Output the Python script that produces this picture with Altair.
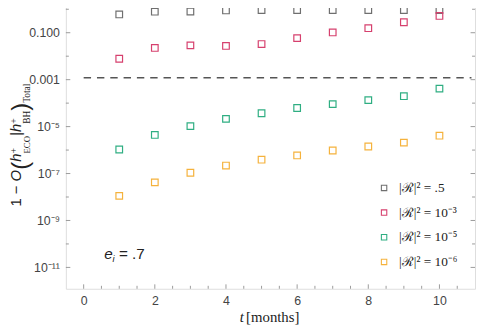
import altair as alt
import pandas as pd

# ---------------- data ----------------
months = [1, 2, 3, 4, 5, 6, 7, 8, 9, 10]
series_names = ["|ℛ|² = .5", "|ℛ|² = 10⁻³", "|ℛ|² = 10⁻⁵", "|ℛ|² = 10⁻⁶"]
series_colors = ["#6f6f6f", "#d6406e", "#2fae82", "#f5b23c"]
r_half = [0.6, 0.79, 0.8, 0.89, 0.92, 0.92, 0.92, 0.92, 0.92, 0.92]
r_1e3 = [0.0078, 0.0225, 0.029, 0.0274, 0.033, 0.059, 0.103, 0.156, 0.28, 0.52]
r_1e5 = [1.06e-6, 4.4e-6, 1.05e-5, 2.13e-5, 3.7e-5, 6.2e-5, 9.1e-5, 1.34e-4, 1.97e-4, 4.15e-4]
r_1e6 = [1.12e-8, 4.2e-8, 1.08e-7, 2.19e-7, 3.9e-7, 5.9e-7, 9.6e-7, 1.42e-6, 2.08e-6, 4.1e-6]

threshold_x = [0, 10.9]
threshold_y = 0.0012

x_label_ticks = [0, 2, 4, 6, 8, 10]
x_minor_ticks = [0.5, 1, 1.5, 2.5, 3, 3.5, 4.5, 5, 5.5, 6.5, 7, 7.5, 8.5, 9, 9.5, 10.5]
y_label_ticks = [1e-1, 1e-3, 1e-5, 1e-7, 1e-9, 1e-11]
y_tick_labels = ["0.100", "0.001", "10⁻⁵", "10⁻⁷", "10⁻⁹", "10⁻¹¹"]
y_minor_ticks = [1e0, 1e-2, 1e-4, 1e-6, 1e-8, 1e-10]

# ---------------- layout ----------------
W, H = 415, 290
PLOT_LEFT, PLOT_TOP = 66.7, 0.5  # page position of plot origin

rows = []
for name, vals in zip(series_names, [r_half, r_1e3, r_1e5, r_1e6]):
    for m, v in zip(months, vals):
        rows.append({"t": m, "v": v, "series": name})
df = pd.DataFrame(rows)

xs = alt.Scale(domain=[-0.5, 11], nice=False, zero=False)
ys = alt.Scale(type="log", domain=[10 ** -11.91, 10 ** 0.273], nice=False)

label_expr = " : ".join(
    f"datum.value > {v / 3:.3e} ? '{lab}'" for v, lab in zip(y_label_ticks, y_tick_labels)
) + " : ''"

xaxis = alt.Axis(values=x_label_ticks, ticks=False, domain=False, grid=False,
                 labelFont="Liberation Sans", labelFontSize=12.5, labelColor="#444",
                 labelPadding=6, title=None)
yaxis = alt.Axis(values=y_label_ticks, ticks=False, domain=False, grid=False,
                 labelExpr=label_expr, labelFont="Liberation Sans", labelFontSize=12.5,
                 labelColor="#444", labelPadding=6.5, title=None)

points = alt.Chart(df).mark_point(shape="square", filled=False, size=45, strokeWidth=1.2, opacity=1).encode(
    x=alt.X("t:Q", scale=xs, axis=xaxis),
    y=alt.Y("v:Q", scale=ys, axis=yaxis),
    color=alt.Color("series:N", scale=alt.Scale(domain=series_names, range=series_colors),
                    legend=alt.Legend(orient="none", legendX=316, legendY=181, title=None,
                                      symbolType="square", symbolSize=30, symbolStrokeWidth=1.1,
                                      labelFont="Liberation Serif", labelFontSize=13.5,
                                      labelColor="#222", rowPadding=10, labelOffset=8.5,
                                      padding=0)),
)

thr = alt.Chart(pd.DataFrame({"x": [threshold_x[0]], "x2": [threshold_x[1]], "y": [threshold_y]})).mark_rule(
    color="#555", strokeWidth=1.6, strokeDash=[7.5, 6]).encode(
    x=alt.X("x:Q", scale=xs, axis=xaxis), x2="x2:Q", y=alt.Y("y:Q", scale=ys, axis=yaxis))

TICK = "#9a9a9a"


def xticks(vals, length):
    d = pd.DataFrame({"x": vals})
    bottom = alt.Chart(d).mark_rule(color=TICK, strokeWidth=1).encode(
        x=alt.X("x:Q", scale=xs, axis=xaxis), y=alt.value(H), y2=alt.value(H - length))
    top = alt.Chart(d).mark_rule(color=TICK, strokeWidth=1).encode(
        x=alt.X("x:Q", scale=xs, axis=xaxis), y=alt.value(0), y2=alt.value(length))
    return [bottom, top]


def yticks(vals, length):
    d = pd.DataFrame({"y": vals})
    left = alt.Chart(d).mark_rule(color=TICK, strokeWidth=1).encode(
        y=alt.Y("y:Q", scale=ys, axis=yaxis), x=alt.value(0), x2=alt.value(length))
    right = alt.Chart(d).mark_rule(color=TICK, strokeWidth=1).encode(
        y=alt.Y("y:Q", scale=ys, axis=yaxis), x=alt.value(W), x2=alt.value(W - length))
    return [left, right]


def txt(text, px, py, size, font="Liberation Sans", style="normal", angle=0, color="#222"):
    return alt.Chart(pd.DataFrame({"s": [text]})).mark_text(
        font=font, fontSize=size, fontStyle=style, angle=angle, align="left",
        baseline="alphabetic", color=color).encode(
        x=alt.value(px - PLOT_LEFT), y=alt.value(py - PLOT_TOP), text="s:N")


# y-axis title pieces, rotated (reading bottom -> top)
SANS, SERIF = "Liberation Sans", "Liberation Serif"
MAIN_X, SUB_X, SUP_X, PAR_X = 21, 30.3, 17.5, 28
pieces = [
    ("1 − ", SANS, 15, "normal", MAIN_X, 25.4),
    ("O", SANS, 15, "italic", MAIN_X, 11.7),
    ("(", SANS, 24, "normal", PAR_X, 8.2),
    ("h", SANS, 15, "italic", MAIN_X, 8.3),
    ("+", SERIF, 10, "normal", SUP_X, 0),
    ("ECO", SERIF, 9, "normal", SUB_X, 18.0),
    ("|", SANS, 15, "normal", MAIN_X, 3.9),
    ("h", SANS, 15, "italic", MAIN_X, 8.3),
    ("+", SERIF, 10, "normal", SUP_X, 0),
    ("BH", SERIF, 9.5, "normal", SUB_X, 13.2),
    (")", SANS, 24, "normal", PAR_X, 8.2),
    ("Total", SERIF, 9.5, "normal", SUB_X, 20),
]
title_layers = []
cur = 207
for text, font, size, style, bx, adv in pieces:
    title_layers.append(txt(text, bx, cur, size, font, style, angle=270))
    cur -= adv

annotations = [
    txt("t", 243, 324, 15, SERIF, "italic"),
    txt("[months]", 249.5, 324, 15, SERIF),
    txt("e", 105.5, 260, 15.5, SANS, "italic"),
    txt("i", 114, 263.5, 9.5, SANS, "italic"),
    txt("= .7", 120.5, 260, 15.5, SANS),
]

layers = (xticks(x_label_ticks, 4.5) + xticks(x_minor_ticks, 3)
          + yticks(y_label_ticks, 4.5) + yticks(y_minor_ticks, 3)
          + [thr, points] + title_layers + annotations)

chart = alt.layer(*layers).properties(
    width=W, height=H,
    autosize=alt.AutoSizeParams(type="none"),
    padding={"left": PLOT_LEFT - 8, "top": PLOT_TOP - 8, "right": 2, "bottom": 37},
).configure_view(stroke="#b8b8b8", strokeWidth=1).configure(background="white")

chart.save("out.html", embed_options={"renderer": "svg", "actions": False})
